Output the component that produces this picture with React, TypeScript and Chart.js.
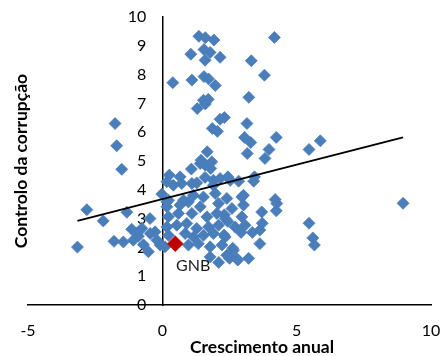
import React, { useEffect, useRef } from "react";
import { Chart, registerables } from "chart.js";

Chart.register(...registerables);

// Annual growth (x) and corruption control (y) for each country (blue diamonds)
const growth = [
  1.36, 1.6, 1.92, 4.17, 1.06, 1.55, 1.78, 2.15, 1.59, 3.31,
  3.8, 0.39, 1.1, 1.55, 1.72, 1.97, 3.22, 1.53, 1.71, 1.6,
  1.3, 2.31, 2.15, 3.15, 1.86, 2.05, 3.06, 3.29, 4.24, 3.16,
  3.97, 3.82, 5.46, 5.88, 1.67, 1.44, 1.59, 1.8, 1.08, -1.76,
  -1.7, -1.51, 0.66, 0.26, 2.44, 3.43, 0.17, 0.41, 1.28, 1.59,
  1.9, 2.15, 2.53, 0.72, 1.1, 1.9, 2.84, 3.4, 4.2, 3.02,
  2.96, 4.26, 4.24, 3.7, 3.72, 3.35, 3.63, 3.63, 2.93, 2.62,
  2.81, 2.5, 3.21, 2.31, 2.44, 2.3, 5.46, 5.6, 5.66, 8.96,
  1.16, 1.53, 1.97, 2.4, 0.17, 0.66, 0.97, 1.41, 2.09, 2.59,
  3.02, 0.23, 0.6, 1.1, 1.66, 2.03, 2.34, 2.96, 0.17, 0.54,
  0.91, 1.28, 1.72, 2.09, 2.71, 3.08, 0.23, 0.85, 1.16, 1.53,
  1.9, 2.34, 0.1, 0.97, 1.34, 1.78, 2.22, 2.65, 1.78, 2.4,
  2.78, -2.81, -2.2, -1.32, -3.16, -1.8, -1.45, -1.14, -1.08, -0.89,
  -0.52, -0.46, -0.76, -0.27, -0.02, 0.17, -0.2, -0.08, -0.45, -0.7,
  -0.95, 0.79, 1.41, 1.84, 2.1, 0.23,
];
const corruption = [
  9.33, 9.28, 9.2, 9.29, 8.71, 8.87, 8.77, 8.6, 8.5, 8.48,
  7.98, 7.72, 7.81, 7.93, 7.85, 7.62, 7.21, 7.11, 7.14, 6.98,
  6.82, 6.51, 6.45, 6.3, 6.13, 6.03, 5.82, 5.64, 5.82, 5.26,
  5.4, 5.09, 5.4, 5.7, 5.32, 5.03, 4.86, 4.74, 4.72, 6.3,
  5.53, 4.71, 4.45, 4.51, 4.45, 4.45, 4.28, 4.16, 4.24, 4.43,
  4.33, 4.39, 4.33, 4.22, 4.22, 4.16, 4.3, 4.3, 3.66, 3.81,
  3.75, 3.52, 3.27, 3.23, 2.84, 2.52, 2.6, 2.13, 2.52, 1.97,
  1.56, 1.62, 1.62, 3.13, 2.9, 2.43, 2.84, 2.33, 2.08, 3.53,
  3.81, 3.75, 3.87, 3.7, 3.41, 3.47, 3.58, 3.41, 3.52, 3.35,
  3.47, 3.06, 3.18, 3.18, 3.06, 3.18, 3.0, 3.06, 2.71, 2.77,
  2.83, 2.66, 2.71, 2.77, 2.71, 2.77, 2.42, 2.48, 2.36, 2.42,
  2.48, 2.36, 2.02, 2.08, 2.13, 2.02, 2.08, 1.9, 1.67, 1.73,
  1.61, 3.31, 2.92, 3.22, 2.01, 2.21, 2.19, 2.63, 2.25, 2.39,
  1.85, 3.0, 2.66, 2.54, 3.85, 3.58, 2.25, 2.08, 2.48, 2.09,
  2.49, 3.64, 4.91, 4.97, 1.48, 3.64,
];

// Highlighted country
const gnbGrowth = [0.48];
const gnbCorruption = [2.13];
const gnbLabel = "GNB";

// Linear trend line end points
const trendGrowth = [-3.16, 8.96];
const trendCorruption = [2.92, 5.82];

const xTicks = [-5, 0, 5, 10];
const yTicks = [0, 1, 2, 3, 4, 5, 6, 7, 8, 9, 10];
const xTitle = "Crescimento anual";
const yTitle = "Controlo da corrupção";

export default function App() {
  const ref = useRef<HTMLCanvasElement>(null);

  useEffect(() => {
    if (!ref.current) return;
    const blue = growth.map((x, i) => ({ x, y: corruption[i] }));
    const red = gnbGrowth.map((x, i) => ({ x, y: gnbCorruption[i] }));
    const trend = trendGrowth.map((x, i) => ({ x, y: trendCorruption[i] }));

    const extras = {
      id: "extras",
      afterDraw(chart: any) {
        const { ctx, chartArea } = chart;
        ctx.save();
        ctx.fillStyle = "#000";
        ctx.font = "bold 17.5px Lato";
        ctx.textAlign = "center";
        ctx.textBaseline = "middle";
        ctx.fillText(xTitle, 262, 347);
        ctx.translate(21.5, (chartArea.top + chartArea.bottom) / 2);
        ctx.rotate(-Math.PI / 2);
        ctx.fillText(yTitle, 0, 0);
        ctx.restore();
        const meta = chart.getDatasetMeta(1);
        const pt = meta.data[0];
        if (pt) {
          ctx.save();
          ctx.fillStyle = "#1a1a1a";
          ctx.font = "16px Lato";
          ctx.textAlign = "center";
          ctx.textBaseline = "middle";
          ctx.fillText(gnbLabel, pt.x + 18, pt.y + 22);
          ctx.restore();
        }
      },
    };

    const tickFont = { family: "Lato", size: 16 };
    const chart = new Chart(ref.current, {
      type: "scatter",
      data: {
        datasets: [
          {
            data: trend,
            xAxisID: "x",
            yAxisID: "y",
            showLine: true,
            borderColor: "#000",
            borderWidth: 2,
            pointRadius: 0,
            fill: false,
            order: 0,
          },
          {
            data: red,
            xAxisID: "x",
            yAxisID: "y",
            pointStyle: "rectRot",
            pointRadius: 8,
            backgroundColor: "#C00000",
            borderColor: "#C00000",
            borderWidth: 0.5,
            order: 1,
          },
          {
            data: blue,
            xAxisID: "x",
            yAxisID: "y",
            pointStyle: "rectRot",
            pointRadius: 6,
            backgroundColor: "#4A7EBB",
            borderColor: "#4A7EBB",
            borderWidth: 0.75,
            order: 2,
          },
        ],
      },
      options: {
        responsive: false,
        animation: false,
        layout: { padding: { left: 28, right: 11, top: 17, bottom: 51 } },
        plugins: { legend: { display: false }, tooltip: { enabled: false } },
        scales: {
          x: {
            type: "linear",
            axis: "x",
            position: { y: 0 },
            min: -5,
            max: 10,
            afterBuildTicks: (s: any) => {
              s.ticks = xTicks.map((v) => ({ value: v }));
            },
            grid: {
              display: true,
              drawOnChartArea: false,
              drawTicks: true,
              tickLength: 16,
              tickColor: "rgba(0,0,0,0)",
              color: "rgba(0,0,0,0)",
            },
            border: { display: true, color: "#000", width: 1.5 },
            ticks: { font: tickFont, color: "#000", padding: 0, maxRotation: 0 },
          },
          y: {
            type: "linear",
            axis: "y",
            position: { x: 0 },
            min: 0,
            max: 10,
            afterBuildTicks: (s: any) => {
              s.ticks = yTicks.map((v) => ({ value: v }));
            },
            grid: { display: false, drawTicks: false },
            border: { display: true, color: "#000", width: 1.5 },
            ticks: { display: false },
          },
          yLabels: {
            type: "linear",
            axis: "y",
            position: { x: -0.6 },
            min: 0,
            max: 10,
            afterBuildTicks: (s: any) => {
              s.ticks = yTicks.map((v) => ({ value: v }));
            },
            grid: { display: false, drawTicks: false },
            border: { display: false },
            ticks: { font: tickFont, color: "#000", padding: 0 },
          },
        },
      } as any,
      plugins: [extras],
    });
    return () => chart.destroy();
  }, []);

  return (
    <div style={{ position: "fixed", left: 0, top: 0, width: 442, height: 356 }}>
      <canvas ref={ref} width={442} height={356} />
    </div>
  );
}
